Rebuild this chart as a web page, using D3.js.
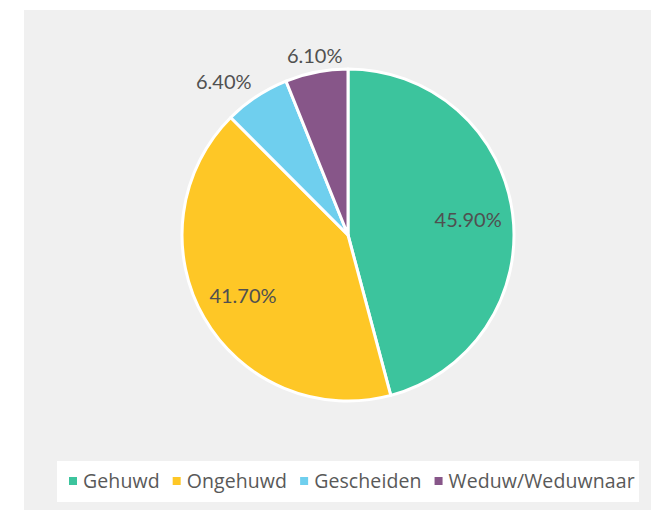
<!DOCTYPE html>
<html>
<head>
<meta charset="utf-8">
<script src="https://cdn.jsdelivr.net/npm/d3@7"></script>
<style>
  body { margin: 0; background: #fff; }
  svg { display: block; }
</style>
</head>
<body>
<div id="chart"></div>
<script>
// Data
const categories = ["Gehuwd", "Ongehuwd", "Gescheiden", "Weduw/Weduwnaar"];
const values = [45.9, 41.7, 6.4, 6.1];
const labels = ["45.90%", "41.70%", "6.40%", "6.10%"];
const colors = ["#3cc49d", "#fec726", "#6fcfee", "#875689"];

const width = 651, height = 511;
const cx = 348, cy = 235, radius = 166;

let svg = d3.select("#chart").append("svg")
  .attr("width", width)
  .attr("height", height);

// Panel background
svg.append("rect")
  .attr("x", 24).attr("y", 10)
  .attr("width", width - 24).attr("height", 500)
  .attr("fill", "#f0f0f0");

let pie = d3.pie().sort(null).value(d => d.value);
let arc = d3.arc().innerRadius(0).outerRadius(radius);

let data = categories.map((c, i) => ({name: c, value: values[i], label: labels[i], color: colors[i]}));
let arcs = pie(data);

let g = svg.append("g").attr("transform", `translate(${cx},${cy})`);

g.selectAll("path.slice")
  .data(arcs)
  .join("path")
  .attr("class", "slice")
  .attr("d", arc)
  .attr("fill", d => d.data.color)
  .attr("stroke", "#fff")
  .attr("stroke-width", 3)
  .attr("stroke-linejoin", "round");

// Labels: inside for large slices, outside end for small ones
arcs.forEach(d => {
  let mid = (d.startAngle + d.endAngle) / 2;
  let s = Math.sin(mid), c = Math.cos(mid);
  let t = g.append("text")
    .text(d.data.label)
    .attr("fill", "#505050")
    .style("font-family", "Lato, 'Open Sans', sans-serif")
    .style("font-size", "20px");
  if (d.data.value > 20) {
    let r = radius * 0.73;
    t.attr("x", s * r).attr("y", -c * r)
      .attr("text-anchor", "middle")
      .attr("dominant-baseline", "central");
  } else {
    let r = radius + 9;
    let anchor = s < -0.3 ? "end" : (s > 0.3 ? "start" : "middle");
    t.attr("x", s * r).attr("y", -c * r)
      .attr("text-anchor", anchor);
  }
});

// Legend
let legend = svg.append("g");
legend.append("rect")
  .attr("x", 57).attr("y", 461)
  .attr("width", 582).attr("height", 41)
  .attr("fill", "#fff");

let lx = 69;
data.forEach(d => {
  legend.append("rect")
    .attr("x", lx).attr("y", 477)
    .attr("width", 8).attr("height", 8)
    .attr("fill", d.color);
  let t = legend.append("text")
    .attr("x", lx + 14).attr("y", 488)
    .attr("fill", "#595959")
    .style("font-family", "'Open Sans', sans-serif")
    .style("font-size", "19.5px")
    .style("letter-spacing", "0.1px")
    .text(d.name);
  lx += 14 + t.node().getComputedTextLength() + 13;
});
</script>
</body>
</html>
